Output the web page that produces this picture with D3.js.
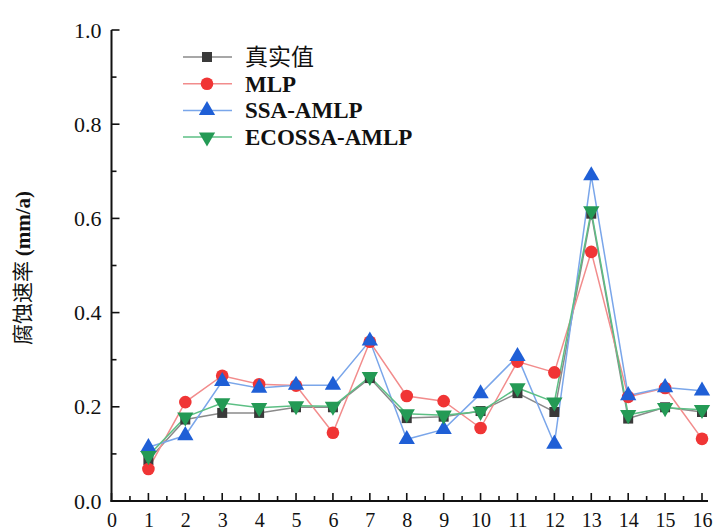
<!DOCTYPE html>
<html><head><meta charset="utf-8">
<script src="https://cdn.jsdelivr.net/npm/d3@7"></script>
<style>body{margin:0;background:#fff}svg{display:block}</style>
</head><body>
<svg id="c" width="713" height="531"></svg>
<script>
const xs = [1,2,3,4,5,6,7,8,9,10,11,12,13,14,15,16];
const seriesNames = ["真实值","MLP","SSA-AMLP","ECOSSA-AMLP"];
const actual = [0.087,0.173,0.187,0.187,0.199,0.199,0.261,0.176,0.179,0.191,0.229,0.189,0.610,0.175,0.199,0.189];
const mlp    = [0.068,0.210,0.266,0.248,0.245,0.145,0.338,0.223,0.212,0.155,0.296,0.273,0.529,0.221,0.240,0.132];
const ssa    = [0.114,0.139,0.254,0.240,0.246,0.246,0.340,0.131,0.152,0.228,0.307,0.121,0.691,0.224,0.241,0.234];
const eco    = [0.096,0.178,0.208,0.198,0.202,0.201,0.264,0.185,0.182,0.190,0.240,0.210,0.616,0.183,0.198,0.194];
const yTicks = [0.0,0.2,0.4,0.6,0.8,1.0];
const xTicks = [0,1,2,3,4,5,6,7,8,9,10,11,12,13,14,15,16];

const svg = d3.select("#c");
const x = d3.scaleLinear().domain([0,16]).range([111.5,702]);
const y = d3.scaleLinear().domain([0,1]).range([501,30]);

const series = [
  {name:seriesNames[0], vals:actual, line:"#8a8a8a", fill:"#3a3a3a", sym:d3.symbolSquare, size:100, rot:0},
  {name:seriesNames[1], vals:mlp, line:"#f28c8c", fill:"#f03535", sym:d3.symbolCircle, size:125, rot:0},
  {name:seriesNames[2], vals:ssa, line:"#7aa6ea", fill:"#1f5fd6", sym:d3.symbolTriangle, size:115, rot:0},
  {name:seriesNames[3], vals:eco, line:"#5cbf84", fill:"#249a55", sym:d3.symbolTriangle, size:115, rot:180}
];

const font = "'Liberation Serif','Times New Roman',serif";

// axes
const yAxis = d3.axisLeft(y).tickValues(yTicks).tickFormat(d3.format(".1f")).tickSize(0).tickPadding(10);
const gy = svg.append("g").attr("transform","translate(111.5,0)").call(yAxis);
gy.attr("font-family",font);
gy.select(".domain").remove();
gy.selectAll("text").attr("font-family",font).attr("font-size",22).attr("fill","#111");

const xAxis = d3.axisBottom(x).tickValues(xTicks).tickSize(0).tickPadding(12);
const gx = svg.append("g").attr("transform","translate(0,501)").call(xAxis);
gx.attr("font-family",font);
gx.select(".domain").remove();
gx.selectAll("text").attr("font-family",font).attr("font-size",20).attr("fill","#111");

// axis lines
svg.append("line").attr("x1",x(0)).attr("x2",x(0)).attr("y1",y(1)).attr("y2",y(0)+1).attr("stroke","#111").attr("stroke-width",2);
svg.append("line").attr("x1",x(0)-1).attr("x2",x(16)+6).attr("y1",y(0)).attr("y2",y(0)).attr("stroke","#111").attr("stroke-width",2);
// y ticks inward
d3.range(0,1.0001,0.1).forEach((v,i)=>{
  svg.append("line").attr("x1",x(0)).attr("x2",x(0)+(i%2===0?8:5)).attr("y1",y(v)).attr("y2",y(v)).attr("stroke","#111").attr("stroke-width",1.6);
});
// x ticks inward
d3.range(0,16.001,0.5).forEach((v,i)=>{
  svg.append("line").attr("x1",x(v)).attr("x2",x(v)).attr("y1",y(0)).attr("y2",y(0)-(i%2===0?8:5)).attr("stroke","#111").attr("stroke-width",1.6);
});

// lines & markers
const lineGen = d3.line().x((d,i)=>x(xs[i])).y(d=>y(d));
series.forEach(s=>{
  svg.append("path").attr("d",lineGen(s.vals)).attr("fill","none").attr("stroke",s.line).attr("stroke-width",1.5);
});
series.forEach(s=>{
  svg.append("g").selectAll("path").data(s.vals).join("path")
    .attr("d",d3.symbol().type(s.sym).size(s.size))
    .attr("transform",(d,i)=>`translate(${x(xs[i])},${y(d)}) rotate(${s.rot})`)
    .attr("fill",s.fill);
});

// legend
const lg = svg.append("g");
series.forEach((s,i)=>{
  const cy = 57 + i*26.7;
  lg.append("line").attr("x1",183).attr("x2",232).attr("y1",cy).attr("y2",cy).attr("stroke",s.line).attr("stroke-width",1.5);
  lg.append("path").attr("d",d3.symbol().type(s.sym).size(s.size)).attr("transform",`translate(207,${cy}) rotate(${s.rot})`).attr("fill",s.fill);
  lg.append("text").attr("x",245).attr("y",cy+8).text(s.name)
    .attr("font-family", i===0 ? "'Noto Sans CJK SC',sans-serif" : font)
    .attr("font-weight", i===0 ? 400 : 700)
    .attr("font-size", 23).attr("fill","#111");
});

// y label
svg.append("text").attr("transform","translate(30,268) rotate(-90)").attr("text-anchor","middle")
  .attr("font-size",21).attr("fill","#111")
  .selectAll("tspan").data([["腐蚀速率 ","'Noto Sans CJK SC',sans-serif",400],["(mm/a)",font,700]]).join("tspan")
  .attr("font-family",d=>d[1]).attr("font-weight",d=>d[2]).text(d=>d[0]);
</script>
</body></html>
